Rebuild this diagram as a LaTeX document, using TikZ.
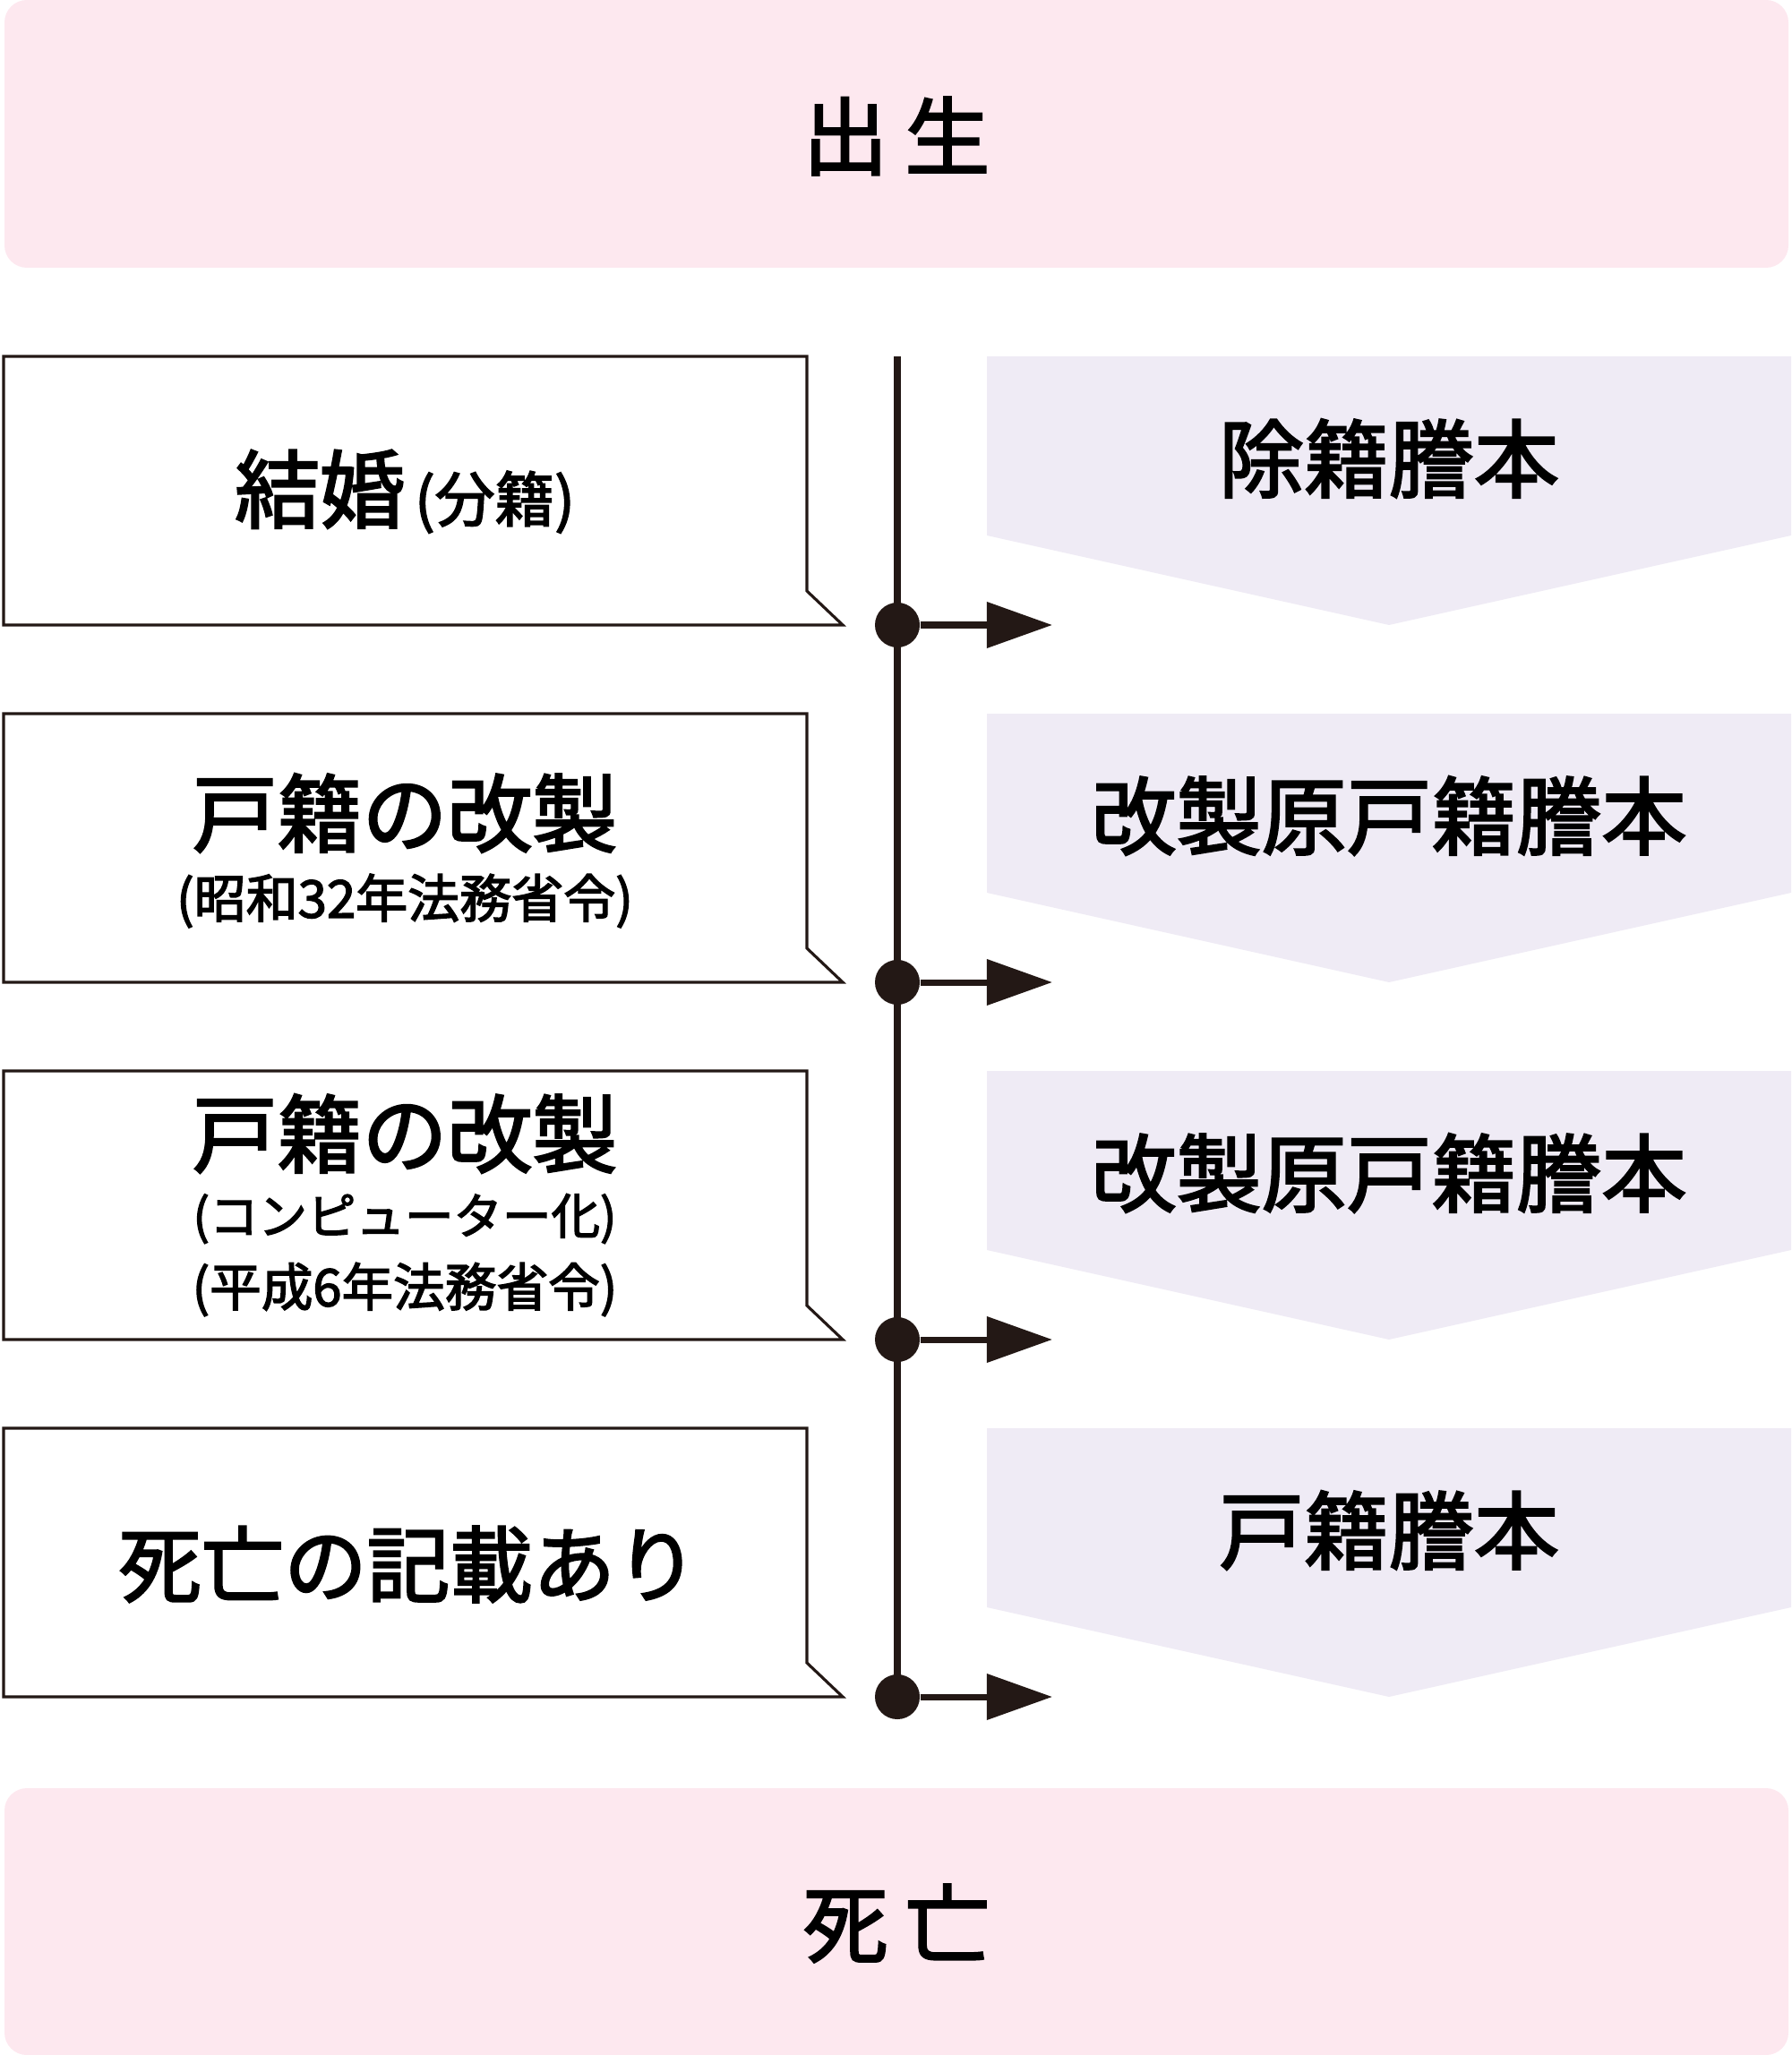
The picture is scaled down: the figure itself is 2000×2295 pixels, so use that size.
\documentclass[tikz,border=0pt]{standalone}
\usepackage{fontspec}
\setmainfont{Noto Sans CJK JP}[FakeBold=2.5]
\usetikzlibrary{arrows.meta}
\definecolor{inkbrown}{HTML}{231815}
\definecolor{barpink}{RGB}{253,232,239}
\definecolor{sheetlilac}{RGB}{239,235,245}
\begin{document}
\begin{tikzpicture}[x=0.01cm,y=-0.01cm,
  bar/.style={fill=barpink,rounded corners=0.25cm},
  eventbox/.style={draw=inkbrown,line width=0.9pt,fill=white},
  sheet/.style={fill=sheetlilac},
  big/.style={font=\fontsize{27}{30}\selectfont,text=black},
  small/.style={font=\fontsize{16.5}{20}\selectfont,text=black},
  joint/.style={circle,fill=inkbrown,inner sep=0pt,minimum size=0.5cm},
  spine/.style={draw=inkbrown,line width=0.08cm},
  link/.style={draw=inkbrown,line width=0.07cm,-{Triangle[length=0.73cm,width=0.5cm]}}]
  \useasboundingbox (0,0) rectangle (2000,2295);
  % birth / death bars
  \fill[bar] (5,0) rectangle (1997,299);
  \node[big] (birth) at (1001,152) {出\hspace{0.2em}生};
  \fill[bar] (5,1997) rectangle (1997,2295);
  \node[big] (death) at (1001,2148) {死\hspace{0.2em}亡};
  % event boxes, certificate chevrons and joints
  \foreach \i/\t/\txt in {1/398/除籍謄本,2/797/改製原戸籍謄本,3/1196/改製原戸籍謄本,4/1595/戸籍謄本} {
    \draw[eventbox] (4,\t) -- (901,\t) -- (901,\t+262) -- (941,\t+300) -- (4,\t+300) -- cycle;
    \fill[sheet] (1102,\t) -- (2000,\t) -- (2000,\t+200) -- (1551,\t+300) -- (1102,\t+200) -- cycle;
    \node[big] (c\i) at (1551,\t+114) {\txt};
    \coordinate (a\i) at (1175,\t+300);
  }
  \coordinate (top) at (1002,398);
  \foreach \i/\t in {1/398,2/797,3/1196,4/1595}
    \node[joint] (d\i) at (1002,\t+300) {};
  \draw[spine] (top) -- (d4.center);
  \foreach \i in {1,...,4}
    \draw[link] (d\i) -- (a\i);
  % texts in the event boxes
  \node[big] (e1) at (452,549) {結婚{\fontsize{19}{20}\selectfont\,(分籍)}};
  \node[big] (e2a) at (452,908) {戸籍の改製};
  \node[small] (e2b) at (452,1006) {(昭和32年法務省令)};
  \node[big] (e3a) at (452,1266) {戸籍の改製};
  \node[small,font=\fontsize{15.5}{20}\selectfont] (e3b) at (452,1361) {(コンピューター化)};
  \node[small,font=\fontsize{16.4}{20}\selectfont] (e3c) at (452,1440) {(平成6年法務省令)};
  \node[big,font=\fontsize{26.3}{30}\selectfont] (e4) at (456,1747) {死亡の記載あり};
\end{tikzpicture}
\end{document}
